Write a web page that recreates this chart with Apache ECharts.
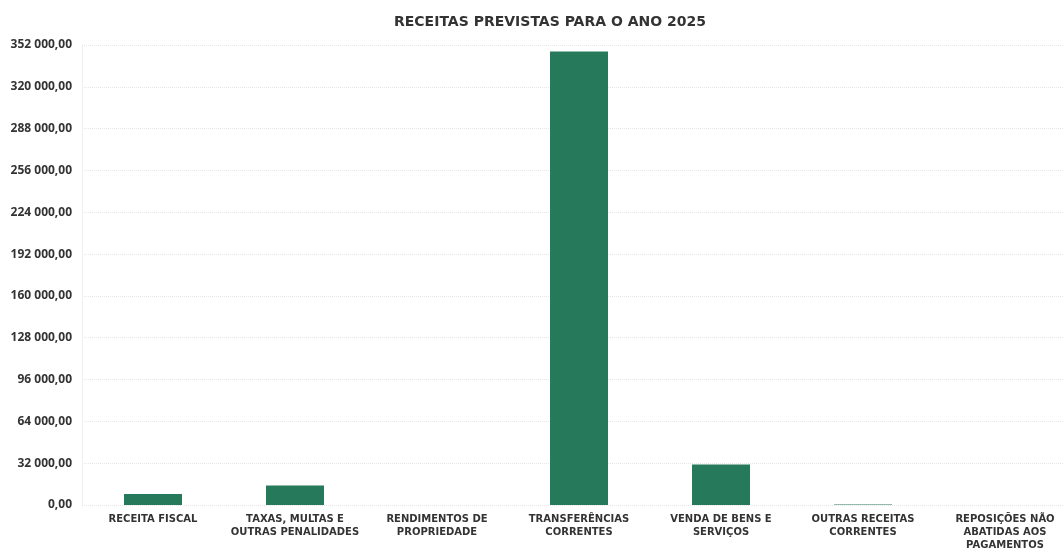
<!DOCTYPE html>
<html>
<head>
<meta charset="utf-8">
<script src="https://cdn.jsdelivr.net/npm/echarts@6/dist/echarts.min.js"></script>
<style>html,body{margin:0;padding:0;background:#fff;overflow:hidden}#c{width:1076px;height:555px}</style>
</head>
<body>
<div id="c"></div>
<script>
const titleText = "RECEITAS PREVISTAS PARA O ANO 2025";
const categories = [
  "RECEITA FISCAL",
  "TAXAS, MULTAS E\nOUTRAS PENALIDADES",
  "RENDIMENTOS DE\nPROPRIEDADE",
  "TRANSFERÊNCIAS\nCORRENTES",
  "VENDA DE BENS E\nSERVIÇOS",
  "OUTRAS RECEITAS\nCORRENTES",
  "REPOSIÇÕES NÃO\nABATIDAS AOS\nPAGAMENTOS"
];
const values = [8500, 15000, 0, 347000, 31000, 300, 0];
const yMin = 0, yMax = 352000, yStep = 32000;

function fmt(v) {
  const s = Math.round(v).toString().replace(/\B(?=(\d{3})+(?!\d))/g, " ");
  return s + ",00";
}

const chart = echarts.init(document.getElementById('c'));
chart.setOption({
  animation: false,
  backgroundColor: '#ffffff',
  title: {
    text: titleText,
    left: 545, top: 10, textAlign: 'center',
    textStyle: { fontFamily: 'DejaVu Sans', fontWeight: 'bold', fontSize: 14, color: '#333333' }
  },
  grid: { left: 82, top: 45, right: 0, bottom: 50, containLabel: false },
  xAxis: {
    type: 'category',
    data: categories,
    axisLine: { show: false },
    axisTick: { show: false },
    axisLabel: {
      interval: 0, margin: 8,
      fontFamily: 'DejaVu Sans', fontWeight: 'bold', fontSize: 10, color: '#333333', lineHeight: 13
    }
  },
  yAxis: {
    type: 'value', min: yMin, max: yMax, interval: yStep,
    axisLine: { show: true, lineStyle: { color: '#eeeeee' } },
    axisTick: { show: false },
    splitLine: { lineStyle: { color: '#e6e6e6', type: 'dotted' } },
    axisLabel: {
      margin: 10, formatter: fmt,
      fontFamily: 'Open Sans', fontWeight: 'bold', fontSize: 12, color: '#333333'
    }
  },
  series: [{
    type: 'bar', data: values, barWidth: 58,
    itemStyle: { color: '#26795a' }
  }]
});
</script>
</body>
</html>
